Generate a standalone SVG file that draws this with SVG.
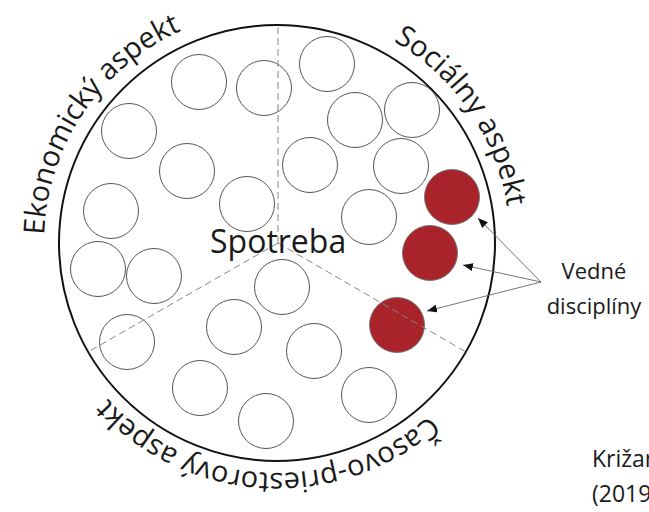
<svg xmlns="http://www.w3.org/2000/svg" width="649" height="512" viewBox="0 0 649 512">
  <style>
    .disc { fill: none; stroke: #555; stroke-width: 1; }
    .red { fill: #a8232a; stroke: #777; stroke-width: 1; }
    .dash { stroke: #888; stroke-width: 1; stroke-dasharray: 7 4; fill: none; }
    .arc { font-family: "Open Sans", "DejaVu Sans", sans-serif; font-size: 29px; fill: #1a1a1a; }
    .lbl { font-family: "Open Sans", "DejaVu Sans", sans-serif; fill: #1a1a1a; }
    .conn { stroke: #666; stroke-width: 0.9; fill: none; marker-end: url(#ah); }
  </style>
  <defs>
    <marker id="ah" viewBox="0 0 10 8" refX="10" refY="4" markerWidth="10" markerHeight="8" markerUnits="userSpaceOnUse" orient="auto">
      <path d="M0,0 L10,4 L0,8 z" fill="#111"/>
    </marker>
    <path id="pEko" d="M44.1,234.9 A233,233 0 0 1 356.7,24.1"/>
    <path id="pSoc" d="M393.5,41.2 A233,233 0 0 1 495.9,322.7"/>
    <path id="pCas" d="M429.4,415.3 A230,230 0 0 1 47.9,263.05"/>
  </defs>
  <rect width="649" height="512" fill="#fff"/>

  <g id="outer">
    <circle cx="277" cy="243" r="218" fill="none" stroke="#111" stroke-width="2"/>
  </g>

  <g id="disciplines">
    <circle class="disc" cx="199" cy="82" r="27.5"/>
    <circle class="disc" cx="264" cy="88" r="27.5"/>
    <circle class="disc" cx="129" cy="131" r="27.5"/>
    <circle class="disc" cx="187" cy="171" r="27.5"/>
    <circle class="disc" cx="111" cy="211" r="27.5"/>
    <circle class="disc" cx="247" cy="204" r="27.5"/>
    <circle class="disc" cx="98" cy="269" r="27.5"/>
    <circle class="disc" cx="154" cy="276" r="27.5"/>
    <circle class="disc" cx="327" cy="64" r="27.5"/>
    <circle class="disc" cx="355" cy="120" r="27.5"/>
    <circle class="disc" cx="412" cy="110" r="27.5"/>
    <circle class="disc" cx="310" cy="165" r="27.5"/>
    <circle class="disc" cx="401" cy="166" r="27.5"/>
    <circle class="disc" cx="369" cy="217" r="27.5"/>
    <circle class="disc" cx="282" cy="287" r="27.5"/>
    <circle class="disc" cx="127" cy="342" r="27.5"/>
    <circle class="disc" cx="234" cy="327" r="27.5"/>
    <circle class="disc" cx="314" cy="351" r="27.5"/>
    <circle class="disc" cx="200" cy="388" r="27.5"/>
    <circle class="disc" cx="266" cy="421" r="27.5"/>
    <circle class="disc" cx="369" cy="395" r="27.5"/>
  </g>
  <g id="red-disciplines">
    <circle class="red" cx="452" cy="197" r="27.5"/>
    <circle class="red" cx="430" cy="253" r="27.5"/>
    <circle class="red" cx="397" cy="325" r="27.5"/>
  </g>

  <g id="dividers">
    <line class="dash" x1="278" y1="243" x2="278" y2="25"/>
    <line class="dash" x1="278" y1="243" x2="88" y2="352"/>
    <line class="dash" x1="278" y1="243" x2="466" y2="352"/>
  </g>

  <g id="center">
    <text class="lbl" x="210" y="253" font-size="32">Spotreba</text>
  </g>

  <g id="aspects">
    <text class="arc"><textPath href="#pEko">Ekonomický aspekt</textPath></text>
    <text class="arc"><textPath href="#pSoc">Sociálny aspekt</textPath></text>
    <text class="arc"><textPath href="#pCas">Časovo-priestorový aspekt</textPath></text>
  </g>

  <g id="label">
    <text class="lbl" font-size="22" text-anchor="middle" x="594" y="279">Vedné</text>
    <text class="lbl" font-size="22" text-anchor="middle" x="594" y="314">disciplíny</text>
  </g>

  <g id="connectors">
    <line class="conn" x1="541" y1="282" x2="478" y2="218"/>
    <line class="conn" x1="541" y1="282" x2="463" y2="265"/>
    <line class="conn" x1="541" y1="282" x2="427" y2="311"/>
  </g>

  <g id="source">
    <text class="lbl" font-size="23" x="592" y="467">Križan</text>
    <text class="lbl" font-size="23" x="592" y="502">(2019)</text>
  </g>
</svg>
